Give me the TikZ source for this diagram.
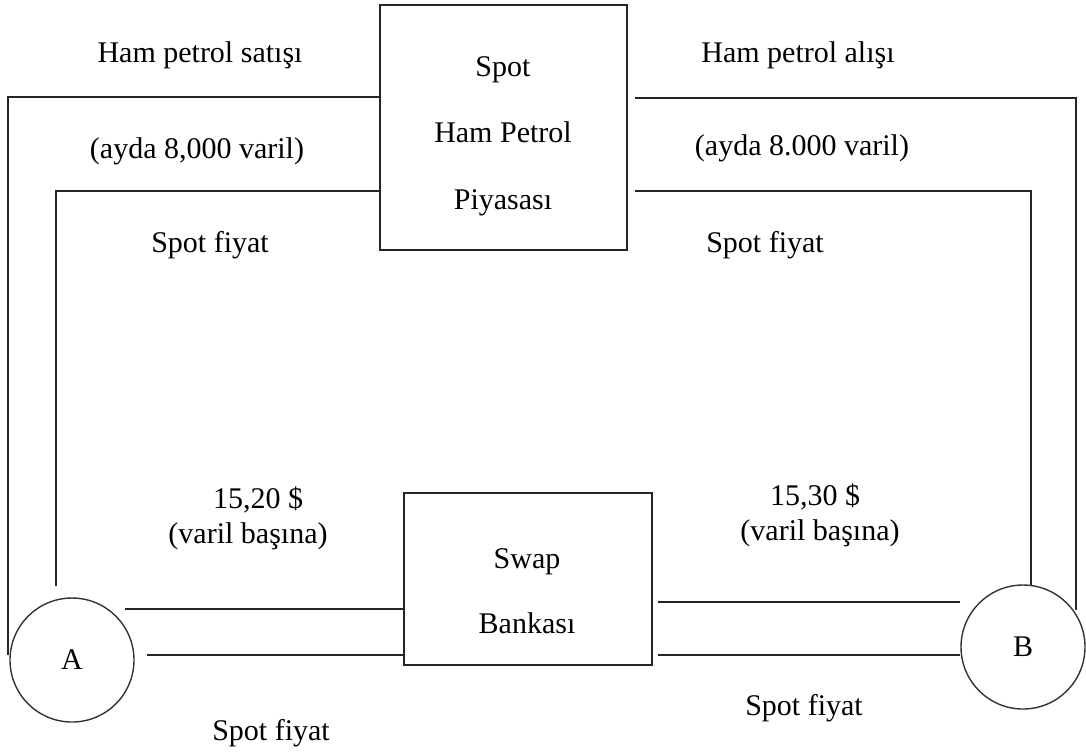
\documentclass[tikz,border=0pt]{standalone}
\usepackage{fontspec}
\setmainfont{Liberation Serif}
\begin{document}
\begin{tikzpicture}[x=0.5pt,y=-0.5pt,
  ln/.style={line width=1pt,draw=black!85},
  boxnode/.style={draw=black!85,line width=1pt,inner sep=0pt},
  party/.style={circle,draw=black!80,line width=0.7pt,minimum size=62pt,inner sep=0pt,font=\fontsize{15}{18}\selectfont},
  lbl/.style={font=\fontsize{15}{18}\selectfont,inner sep=0pt,align=center}]
\useasboundingbox (0,0) rectangle (1086,752);
% boxes
\node[boxnode,minimum width=123.5pt,minimum height=122.5pt] (spot) at (503.5,127.5) {};
\node[lbl,font=\fontsize{15}{33.25}\selectfont] (spottxt) at (503,136) {Spot\\Ham Petrol\\Piyasası};
\node[boxnode,minimum width=124pt,minimum height=86pt] (swap) at (528,579) {};
\node[lbl,font=\fontsize{15}{32.5}\selectfont] (swaptxt) at (527,591) {Swap\\Bankası};
% parties
\node[party] (A) at (72,660) {A};
\node[party] (B) at (1023,647) {B};
% coordinates
\coordinate (lo1) at (8,97);   \coordinate (lo2) at (8,655);
\coordinate (li1) at (56,191); \coordinate (li2) at (56,586);
\coordinate (ro0) at (635,98); \coordinate (ro1) at (1076,98); \coordinate (ro2) at (1076,610);
\coordinate (ri0) at (635,191); \coordinate (ri1) at (1031,191); \coordinate (ri2) at (1031,585);
\coordinate (al1) at (125,609); \coordinate (al2) at (147,655);
\coordinate (br1) at (658,602); \coordinate (br2) at (658,655);
% top connections
\draw[ln] (spot.west |- lo1) -- (lo1) -- (lo2);
\draw[ln] (spot.west |- li1) -- (li1) -- (li2);
\draw[ln] (ro0) -- (ro1) -- (ro2);
\draw[ln] (ri0) -- (ri1) -- (ri2);
% bottom connections
\draw[ln] (al1) -- (swap.west |- al1);
\draw[ln] (al2) -- (swap.west |- al2);
\draw[ln] (br1) -- (B.west |- br1);
\draw[ln] (br2) -- (B.west |- br2);
% labels
\node[lbl] (t1) at (200,55) {Ham petrol satışı};
\node[lbl] (t2) at (197,151) {(ayda 8,000 varil)};
\node[lbl] (t3) at (210,245) {Spot fiyat};
\node[lbl] (t4) at (798,55) {Ham petrol alışı};
\node[lbl] (t5) at (802,148) {(ayda 8.000 varil)};
\node[lbl] (t6) at (765,245) {Spot fiyat};
\node[lbl] (t7) at (258,500) {15,20 \$};
\node[lbl] (t8) at (248,536) {(varil başına)};
\node[lbl] (t9) at (815,497) {15,30 \$};
\node[lbl] (t10) at (820,533) {(varil başına)};
\node[lbl] (t11) at (271,733) {Spot fiyat};
\node[lbl] (t12) at (804,708) {Spot fiyat};
\end{tikzpicture}
\end{document}
